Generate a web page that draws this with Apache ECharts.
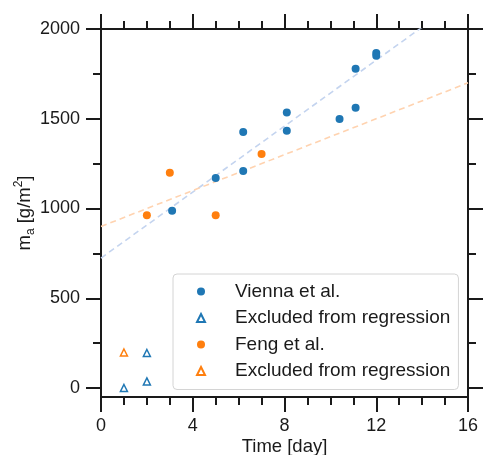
<!DOCTYPE html>
<html>
<head>
<meta charset="utf-8">
<script src="https://cdn.jsdelivr.net/npm/echarts@6/dist/echarts.min.js"></script>
<style>
html,body{margin:0;padding:0;background:#fff;}
#chart{width:483px;height:455px;}
</style>
</head>
<body>
<div id="chart"></div>
<script>
// ---- data ----
const viennaX = [3.1, 5, 6.2, 6.2, 8.1, 8.1, 10.4, 11.1, 11.1, 12, 12];
const viennaY = [988, 1170, 1426, 1209, 1535, 1433, 1499, 1561, 1779, 1866, 1851];
const viennaExclX = [1, 2, 2];
const viennaExclY = [0, 37, 195];
const fengX = [2, 3, 5, 7];
const fengY = [962, 1199, 962, 1304];
const fengExclX = [1];
const fengExclY = [198];
const fitX = [0, 16];
const viennaFitY = [724, 2194];
const fengFitY = [900, 1700];
const xTicks = [0, 4, 8, 12, 16];
const yTicks = [0, 500, 1000, 1500, 2000];
const yMinorTicks = [250, 750, 1250, 1750];
const seriesNames = ['Vienna et al.', 'Excluded from regression', 'Feng et al.', 'Excluded from regression\u200b'];

const zip = (xs, ys) => xs.map((x, i) => [x, ys[i]]);

const FONT = 'Liberation Sans, Arial, sans-serif';
const INK = '#1a1a1a';
const BLUE = '#1f77b4';
const ORANGE = '#ff7f0e';

const chart = echarts.init(document.getElementById('chart'), null, {renderer: 'canvas'});

const axisLine = {show: true, onZero: false, lineStyle: {color: INK, width: 2}};
const noLine = {show: false, onZero: false};
const majorTick = (vals) => ({show: true, inside: false, length: 15, lineStyle: {color: INK, width: 2}, customValues: vals});
const minorTickY = {show: true, inside: false, length: 8, lineStyle: {color: INK, width: 2}, customValues: yMinorTicks};

const xBase = {
  type: 'value', min: xTicks[0], max: xTicks[xTicks.length - 1], interval: 4,
  splitLine: {show: false},
  axisLine: axisLine,
  axisTick: {show: true, inside: false, length: 15, lineStyle: {color: INK, width: 2}},
  minorTick: {show: true, splitNumber: 4, length: 8, lineStyle: {color: INK, width: 2}}
};

const yBase = {
  type: 'value', min: -50, max: 2000,
  splitLine: {show: false}
};

chart.setOption({
  animation: false,
  backgroundColor: '#fff',
  textStyle: {fontFamily: FONT},
  grid: {left: 101, right: 15, top: 29, bottom: 58, containLabel: false, outerBoundsMode: 'none'},
  xAxis: [
    Object.assign({}, xBase, {
      position: 'bottom',
      name: 'Time [day]', nameLocation: 'middle', nameGap: 40, nameMoveOverlap: false,
      nameTextStyle: {fontSize: 18.5, color: INK, fontFamily: FONT},
      axisLabel: {show: true, margin: 20, fontSize: 18, color: INK, fontFamily: FONT,
        customValues: xTicks, formatter: (v) => String(v)}
    }),
    Object.assign({}, xBase, {
      position: 'top',
      axisLabel: {show: false}
    })
  ],
  yAxis: [
    Object.assign({}, yBase, {
      position: 'left',
      axisLine: axisLine,
      axisTick: majorTick(yTicks),
      axisLabel: {show: true, margin: 21, fontSize: 18, color: INK, fontFamily: FONT,
        customValues: yTicks, formatter: (v) => String(v)},
      name: '{m|m}{s|a}{m| [g/m}{p|2}{m|]}',
      nameLocation: 'middle', nameGap: 64, nameMoveOverlap: false,
      nameTextStyle: {
        color: INK, fontFamily: FONT,
        rich: {
          m: {fontSize: 18.5, color: INK, fontFamily: FONT, lineHeight: 24, verticalAlign: 'middle'},
          s: {fontSize: 12, color: INK, fontFamily: FONT, lineHeight: 24, verticalAlign: 'bottom'},
          p: {fontSize: 12, color: INK, fontFamily: FONT, lineHeight: 24, verticalAlign: 'top'}
        }
      }
    }),
    Object.assign({}, yBase, {
      position: 'left',
      axisLine: noLine,
      axisTick: minorTickY,
      axisLabel: {show: false}
    }),
    Object.assign({}, yBase, {
      position: 'right',
      axisLine: axisLine,
      axisTick: majorTick(yTicks),
      axisLabel: {show: false}
    }),
    Object.assign({}, yBase, {
      position: 'right',
      axisLine: noLine,
      axisTick: minorTickY,
      axisLabel: {show: false}
    })
  ],
  legend: {
    data: seriesNames,
    orient: 'vertical',
    left: 173, top: 274,
    padding: [8, 8, 9, 23],
    itemWidth: 8, itemHeight: 8,
    itemGap: 7.5,
    borderColor: '#d4d4d4', borderWidth: 1, borderRadius: 4,
    backgroundColor: 'rgba(255,255,255,0.8)',
    selectedMode: false,
    textStyle: {fontSize: 19, color: INK, fontFamily: FONT, padding: [0, 0, 0, 25]}
  },
  series: [
    {
      type: 'line', name: 'fitVienna', data: zip(fitX, viennaFitY), showSymbol: false, symbol: 'none',
      lineStyle: {color: '#c4d4ef', width: 1.6, type: [6, 4]}, z: 1, silent: true, clip: true
    },
    {
      type: 'line', name: 'fitFeng', data: zip(fitX, fengFitY), showSymbol: false, symbol: 'none',
      lineStyle: {color: '#ffd3b0', width: 1.6, type: [6, 4]}, z: 1, silent: true, clip: true
    },
    {
      type: 'scatter', name: seriesNames[0], data: zip(viennaX, viennaY),
      symbol: 'circle', symbolSize: 8, itemStyle: {color: BLUE, opacity: 1}, z: 3
    },
    {
      type: 'scatter', name: seriesNames[1], data: zip(viennaExclX, viennaExclY),
      symbol: 'triangle', symbolSize: [7, 7],
      itemStyle: {color: '#ffffff', borderColor: BLUE, borderWidth: 1.5, opacity: 1}, z: 3
    },
    {
      type: 'scatter', name: seriesNames[2], data: zip(fengX, fengY),
      symbol: 'circle', symbolSize: 8, itemStyle: {color: ORANGE, opacity: 1}, z: 3
    },
    {
      type: 'scatter', name: seriesNames[3], data: zip(fengExclX, fengExclY),
      symbol: 'triangle', symbolSize: [7, 7],
      itemStyle: {color: '#ffffff', borderColor: ORANGE, borderWidth: 1.5, opacity: 1}, z: 3
    }
  ]
});
</script>
</body>
</html>
